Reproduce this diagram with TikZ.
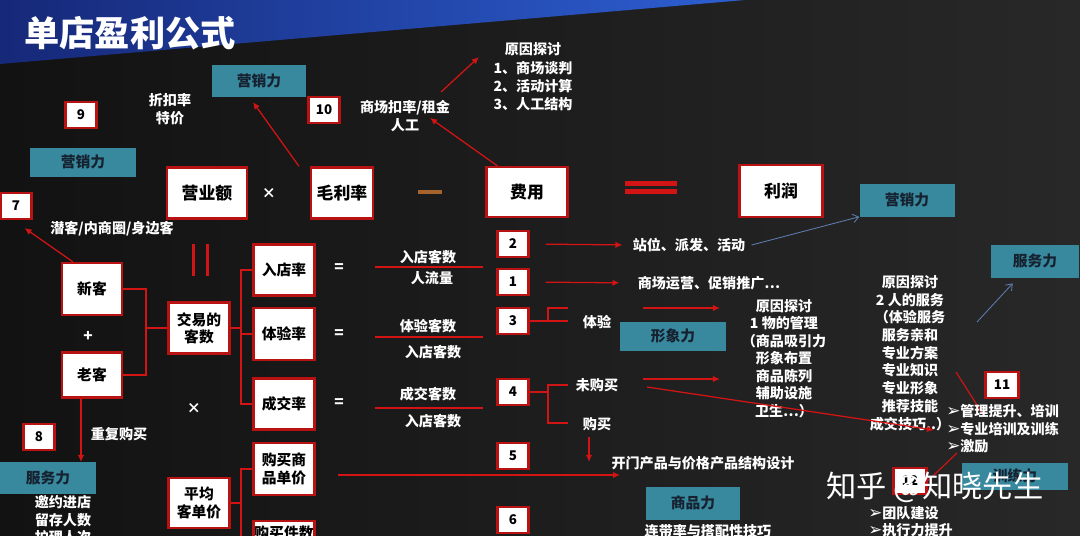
\documentclass[tikz,border=0pt]{standalone}
\usepackage{fontspec}
\setmainfont{Noto Sans CJK SC}
\newfontfamily\symfont{DejaVu Sans}
\usetikzlibrary{arrows.meta}
\definecolor{bgleft}{RGB}{18,18,18}
\definecolor{bgright}{RGB}{40,40,40}
\definecolor{titleL}{RGB}{22,40,120}
\definecolor{titleR}{RGB}{45,95,210}
\definecolor{boxred}{RGB}{185,18,18}
\definecolor{linered}{RGB}{210,20,20}
\definecolor{tealbg}{RGB}{56,136,158}
\definecolor{tealtxt}{RGB}{22,34,48}
\definecolor{arrowblue}{RGB}{95,125,175}
\definecolor{minusorange}{RGB}{165,100,45}
\newcommand{\bul}{{\symfont\fontsize{12}{12}\selectfont ➢}}
\begin{document}
\begin{tikzpicture}[x=0.025cm,y=-0.025cm,
	sz/.style 2 args={minimum width=#1*0.025cm,minimum height=#2*0.025cm},
	bigbox/.style={draw=boxred,fill=white,line width=1.7pt,inner sep=0pt,text=black,align=center,font=\bfseries\fontsize{12}{14}\selectfont},
	midbox/.style={bigbox,font=\bfseries\fontsize{10.5}{12.3}\selectfont},
	numbox/.style={draw=boxred,fill=white,line width=1.5pt,inner sep=0pt,sz={31}{26},text=black,font=\bfseries\fontsize{9.5}{11}\selectfont},
	tealbox/.style={fill=tealbg,inner sep=0pt,text=tealtxt,font=\bfseries\fontsize{10.5}{12}\selectfont},
	wtext/.style={text=white,inner sep=0pt,align=center,font=\bfseries\fontsize{10}{12.6}\selectfont},
	tree/.style={draw=linered,line width=1.8pt},
	frac/.style={draw=linered,line width=1.3pt},
	rarrow/.style={draw=linered,line width=0.9pt,-{Latex[length=5pt,width=4.5pt]}},
	barrow/.style={draw=arrowblue,line width=0.6pt,-{Straight Barb[length=4pt,width=6pt]}},
	thinred/.style={draw=linered,line width=0.8pt}]
	%\draw[help lines] (0,0) grid (1080,535);
	\useasboundingbox (0,0) rectangle (1080,535);
	\clip (0,0) rectangle (1080,535);
	\shade[left color=bgleft,right color=bgright] (0,0) rectangle (1080,535);
	\shade[left color=titleL,right color=titleR] (0,0) -- (745,0) -- (0,64) -- cycle;
	\node[text=white,font=\bfseries\fontsize{25}{28}\selectfont] (title) at (130,33) {单店盈利公式};

	% formula row
	\node[bigbox,sz={80}{51}] (yye) at (207,193) {营业额};
	\node[text=white,font=\bfseries\fontsize{10}{12}\selectfont] (times1) at (269,193) {×};
	\node[bigbox,sz={62}{51}] (mll) at (342,193) {毛利率};
	\fill[minusorange] (418,190) rectangle (442,194);
	\node[bigbox,sz={81}{50}] (fy) at (527,192) {费用};
	\fill[linered] (625,181) rectangle (677,186);
	\fill[linered] (625,189) rectangle (677,194);
	\node[bigbox,sz={83}{52}] (lr) at (781,191) {利润};

	% teal labels
	\node[tealbox,sz={94}{32}] (yx1) at (259,81) {营销力};
	\node[tealbox,sz={106}{29}] (yx2) at (83,162) {营销力};
	\node[tealbox,sz={95}{33}] (yx3) at (907,200) {营销力};
	\node[tealbox,sz={88}{33}] (fw1) at (1035,261) {服务力};
	\node[tealbox,sz={106}{29}] (xx) at (673,336) {形象力};
	\node[tealbox,sz={96}{32}] (fw2) at (48,478) {服务力};
	\node[tealbox,sz={94}{33}] (sp) at (693,503) {商品力};
	\node[tealbox,sz={106}{27}] (xl) at (1015,476) {训练力};

	% numbers
	\node[numbox] (n9) at (81,115) {9};
	\node[numbox] (n10) at (324,110) {10};
	\node[numbox] (n7) at (16,206) {7};
	\node[numbox] (n8) at (39,437) {8};
	\node[numbox] (n2) at (513,244) {2};
	\node[numbox] (n1) at (513,282) {1};
	\node[numbox] (n3) at (513,321) {3};
	\node[numbox] (n4) at (513,392) {4};
	\node[numbox] (n5) at (513,456) {5};
	\node[numbox] (n6) at (513,520) {6};
	\node[numbox,sz={33}{26}] (n11) at (1002,385) {11};

	% top texts
	\node[wtext] (zkl) at (170,109) {折扣率\\特价};
	\node[wtext] (scl) at (405,116) {商场扣率/租金\\人工};
	\node[wtext,font=\bfseries\fontsize{10}{13}\selectfont] (yy1) at (533,77) {原因探讨\\1、商场谈判\\2、活动计算\\3、人工结构};
	\node[wtext] (qk) at (112,229) {潜客/内商圈/身边客};
	\node[wtext] (cfgm) at (119,434) {重复购买};
	\node[wtext,anchor=north] (yyjd) at (63,495) {邀约进店\\留存人数\\护理人次};

	% customers tree
	\draw[fill=linered,draw=none] (192,244) rectangle (195,276);
	\draw[fill=linered,draw=none] (206,244) rectangle (209,276);
	\node[midbox,sz={60}{52}] (xk) at (92,289) {新客};
	\node[text=white,font=\bfseries\fontsize{11}{12}\selectfont] (plus) at (88,336) {+};
	\node[midbox,sz={60}{45}] (lk) at (92,375) {老客};
	\node[midbox,sz={61}{51}] (jykc) at (199,328) {交易的\\客数};
	\node[midbox,sz={61}{51}] (rdl) at (284,270) {入店率};
	\node[midbox,sz={61}{52}] (tyl) at (284,334) {体验率};
	\node[midbox,sz={61}{51}] (cjl) at (284,404) {成交率};
	\node[text=white,font=\bfseries\fontsize{10}{12}\selectfont] (times2) at (194,408) {×};
	\node[midbox,sz={61}{52}] (gmdj) at (284,469) {购买商\\品单价};
	\node[midbox,sz={61}{50}] (pjkd) at (199,503) {平均\\客单价};
	\node[midbox,anchor=north,minimum width=61*0.025cm,inner ysep=0.12cm,text depth=0.9cm] (gmjs) at (284,520) {购买件数};
	\coordinate (j1) at (146,328);
	\draw[tree] (xk.east) -| (j1) |- (lk.east);
	\draw[tree] (j1) -- (jykc.west);
	\coordinate (j2) at (241,328);
	\draw[tree] (jykc.east) -- (j2);
	\draw[tree] (rdl.west) -| (j2) |- (cjl.west);
	\draw[tree] (tyl.west) -- (tyl.west -| j2);
	\coordinate (j3) at (241,503);
	\draw[tree] (pjkd.east) -- (j3);
	\draw[tree] (gmdj.west) -| (j3) |- (gmjs.west);

	% fractions
	\foreach \y in {268,334,403}
		\node[text=white,font=\bfseries\fontsize{11}{12}\selectfont] at (339,\y) {=};
	\node[wtext] (f1a) at (428,257) {入店客数};
	\node[wtext] (f1b) at (432,278) {人流量};
	\draw[frac] (375,267) -- (483,267);
	\node[wtext] (f2a) at (428,326) {体验客数};
	\node[wtext] (f2b) at (433,352) {入店客数};
	\draw[frac] (375,337) -- (483,337);
	\node[wtext] (f3a) at (428,394) {成交客数};
	\node[wtext] (f3b) at (433,421) {入店客数};
	\draw[frac] (375,408) -- (483,408);

	% right side texts
	\node[wtext] (zw) at (689,245) {站位、派发、活动};
	\node[wtext] (scyy) at (709,283) {商场运营、促销推广…};
	\node[wtext] (ty) at (597,322) {体验};
	\node[wtext] (wgm) at (597,385) {未购买};
	\node[wtext] (gm) at (597,424) {购买};
	\node[wtext] (kmcp) at (703,463) {开门产品与价格产品结构设计};
	\node[wtext] (lian) at (708,531) {连带率与搭配性技巧};
	\node[wtext,font=\bfseries\fontsize{10}{12.4}\selectfont] (yy2) at (784,358.5) {原因探讨\\1 物的管理\\（商品吸引力\\形象布置\\商品陈列\\辅助设施\\卫生…）};
	\node[wtext] (yy3) at (910,353) {原因探讨\\2 人的服务\\（体验服务\\服务亲和\\专业方案\\专业知识\\专业形象\\推荐技能\\成交技巧..）};
	\coordinate (r11a) at (956,372);
	\coordinate (r11b) at (984,416);
	\draw[thinred] (r11a) -- (r11b);
	\node[wtext,anchor=west,align=left,font=\bfseries\fontsize{10}{12.4}\selectfont] (gl) at (946,429) {\bul 管理提升、培训\\\bul 专业培训及训练\\\bul 激励};
	\node[wtext,anchor=west,align=left,font=\bfseries\fontsize{10}{12.4}\selectfont] (td) at (868,521.5) {\bul 团队建设\\\bul 执行力提升};
	\node[numbox,sz={33}{26}] (n12) at (910,481) {12};
	\coordinate (r12) at (957,453);
	\draw[thinred] (r12) -- (n12.east);

	% brackets
	\coordinate (b3) at (548,321);
	\coordinate (t3a) at (568,308);
	\coordinate (t3b) at (568,321);
	\draw[tree,line width=1.5pt] (n3.east) -- (t3b);
	\draw[tree,line width=1.5pt] (t3a) -| (b3);
	\coordinate (b4) at (548,392);
	\coordinate (t4a) at (568,385);
	\coordinate (t4b) at (568,423);
	\draw[tree,line width=1.5pt] (n4.east) -- (b4);
	\draw[tree,line width=1.5pt] (t4a) -| (b4);
	\draw[tree,line width=1.5pt] (t4b) -| (b4);

	% arrows
	\draw[rarrow] ([xshift=-0.27cm]mll.north west) -- ([xshift=-0.15cm,yshift=-0.12cm]yx1.south);
	\coordinate (scltip) at (430,118);
	\draw[rarrow] ([xshift=0.3cm]fy.north west) -- (scltip);
	\coordinate (yya) at (441,92);
	\coordinate (yyb) at (479,57);
	\draw[rarrow] (yya) -- (yyb);
	\draw[rarrow] ([xshift=0.3cm]xk.north west) -- ([xshift=-0.2cm,yshift=-0.2cm]n7.south east);
	\coordinate (lkd) at (81,462);
	\draw[rarrow] (lk.south -| lkd) -- (lkd);
	\draw[rarrow,shorten <=0.4cm,shorten >=0.25cm] (n2.east) -- (zw.west);
	\draw[rarrow,shorten <=0.4cm,shorten >=0.45cm] (n1.east) -- (scyy.west);
	\coordinate (tya) at (643,308);
	\coordinate (tyb) at (720,308);
	\draw[rarrow] (tya) -- (tyb);
	\coordinate (wga) at (643,379);
	\coordinate (wgb) at (720,379);
	\draw[rarrow] (wga) -- (wgb);
	\coordinate (wgc) at (647,387);
	\coordinate (wgd) at (934,430);
	\draw[rarrow] (wgc) -- (wgd);
	\coordinate (gma) at (589,437);
	\coordinate (gmb) at (589,462);
	\draw[rarrow] (gma) -- (gmb);
	\coordinate (l5) at (620,475);
	\draw[rarrow,shorten <=0.55cm] (gmdj.east |- l5) -- (l5);
	\draw[barrow] ([xshift=0.15cm]zw.east) -- (yx3.south west);
	\coordinate (fwa) at (977,322);
	\draw[barrow] (fwa) -- ([xshift=0.55cm,yshift=-0.14cm]fw1.south west);

	% watermark
	\node[text=white,font=\fontsize{21.5}{24}\selectfont] (wm) at (935,487) {知乎 @知晓先生};
\end{tikzpicture}
\end{document}
